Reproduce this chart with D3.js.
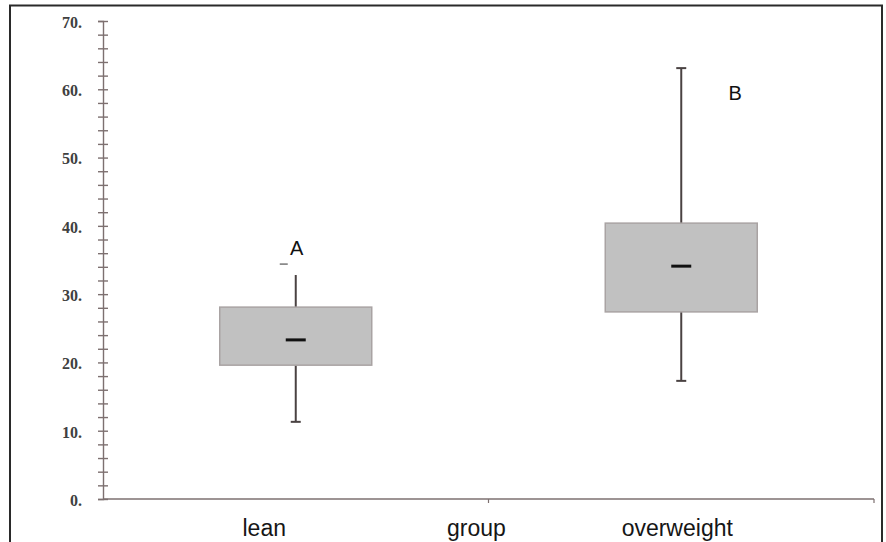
<!DOCTYPE html>
<html><head><meta charset="utf-8">
<script src="https://cdn.jsdelivr.net/npm/d3@7"></script>
<style>
html,body{margin:0;padding:0;background:#fff;}
svg{display:block;}
</style></head>
<body>
<script>
const categories = ["lean", "overweight"];
const letters = ["A", "B"];
const q1 = [19.6, 27.4];
const median = [23.3, 34.1];
const q3 = [28.1, 40.4];
const whiskerLow = [11.3, 17.3];
const whiskerHigh = [32.8, 63.1];
const outliers = [[34.4], []];
const letterValues = [35.7, 58.5];
const yTicks = d3.range(0, 71, 2);
const xAxisTitle = "group";

const W = 886, H = 542;
const svg = d3.select("body").append("svg").attr("width", W).attr("height", H);

// frame
svg.append("path").attr("d", "M10,542 V5.5 H882 V542")
  .attr("fill", "none").attr("stroke", "#2a2a2a").attr("stroke-width", 2);

const y = d3.scaleLinear().domain([0, 70]).range([499, 21]);
const x = d3.scaleBand().domain(categories).range([103, 874]).padding(0);

const axisColor = "#7d7070";

// y axis
const ya = svg.append("g").attr("transform", "translate(103,0)")
  .call(d3.axisLeft(y).tickValues(yTicks).tickSize(5).tickPadding(16)
    .tickFormat(d => d % 10 === 0 ? d + "." : ""));
ya.select(".domain").attr("stroke", axisColor).attr("stroke-width", 1.4);
ya.selectAll(".tick line").attr("x1", 5).attr("x2", -5).attr("stroke", axisColor).attr("stroke-width", 1.4);
ya.selectAll(".tick text").attr("fill", "#404040").attr("dy", "0.4em")
  .style("font-family", "'Liberation Serif','Times New Roman',serif")
  .style("font-size", "16px").style("font-weight", "bold");

// x axis
const xa = svg.append("g").attr("transform", "translate(0,499)");
xa.append("line").attr("x1", 103).attr("x2", 874).attr("y1", 0).attr("y2", 0)
  .attr("stroke", axisColor).attr("stroke-width", 1.4);
const boundaries = categories.map(c => x(c) + x.bandwidth());
xa.selectAll("line.t").data(boundaries).join("line").attr("class", "t")
  .attr("x1", d => d).attr("x2", d => d).attr("y1", 0).attr("y2", 4)
  .attr("stroke", axisColor).attr("stroke-width", 1.2);

const labelOffsets = [-31.5, -4];
const fontSans = "'Liberation Sans',Arial,sans-serif";
svg.selectAll("text.cat").data(categories).join("text").attr("class", "cat")
  .attr("x", (d, i) => x(d) + x.bandwidth() / 2 + labelOffsets[i])
  .attr("y", 536).attr("text-anchor", "middle")
  .style("font-family", fontSans).style("font-size", "23px").attr("fill", "#161616")
  .text(d => d);
svg.append("text").attr("x", x(categories[0]) + x.bandwidth() - 12).attr("y", 536)
  .attr("text-anchor", "middle").style("font-family", fontSans).style("font-size", "23px")
  .attr("fill", "#161616").text(xAxisTitle);

// boxes
const g = svg.append("g");
const boxW = 152;
const wColor = "#4a4242";
categories.forEach((c, i) => {
  const cx = x(c) + x.bandwidth() / 2;
  g.append("line").attr("x1", cx).attr("x2", cx).attr("y1", y(q3[i])).attr("y2", y(whiskerHigh[i]))
    .attr("stroke", wColor).attr("stroke-width", 2);
  g.append("line").attr("x1", cx).attr("x2", cx).attr("y1", y(q1[i])).attr("y2", y(whiskerLow[i]))
    .attr("stroke", wColor).attr("stroke-width", 2);
  g.append("line").attr("x1", cx - 5).attr("x2", cx + 5).attr("y1", y(whiskerLow[i])).attr("y2", y(whiskerLow[i]))
    .attr("stroke", wColor).attr("stroke-width", 2);
  if (i === 1) {
    g.append("line").attr("x1", cx - 5).attr("x2", cx + 5).attr("y1", y(whiskerHigh[i])).attr("y2", y(whiskerHigh[i]))
      .attr("stroke", wColor).attr("stroke-width", 2);
  }
  g.append("rect").attr("x", cx - boxW / 2).attr("y", y(q3[i]))
    .attr("width", boxW).attr("height", y(q1[i]) - y(q3[i]))
    .attr("fill", "#c1c1c1").attr("stroke", "#a9a3a3").attr("stroke-width", 1.5);
  g.append("line").attr("x1", cx - 10).attr("x2", cx + 10).attr("y1", y(median[i])).attr("y2", y(median[i]))
    .attr("stroke", "#111").attr("stroke-width", 3);
  outliers[i].forEach(v => {
    g.append("line").attr("x1", cx - 16).attr("x2", cx - 8).attr("y1", y(v)).attr("y2", y(v))
      .attr("stroke", "#777").attr("stroke-width", 1.5);
  });
});

// letters
const letterDx = [1, 54];
svg.selectAll("text.letter").data(letters).join("text").attr("class", "letter")
  .attr("x", (d, i) => x(categories[i]) + x.bandwidth() / 2 + letterDx[i])
  .attr("y", (d, i) => y(letterValues[i]))
  .attr("text-anchor", "middle").style("font-family", fontSans).style("font-size", "20px")
  .attr("fill", "#111").text(d => d);
</script>
</body></html>
